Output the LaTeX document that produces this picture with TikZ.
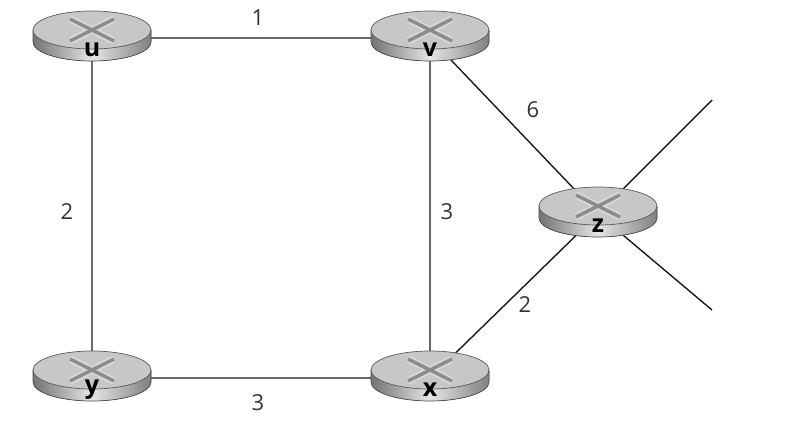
\documentclass[tikz,border=0pt]{standalone}
\usepackage{fontspec}
\setmainfont{Open Sans}
\begin{document}
\begin{tikzpicture}[x=1pt,y=-1pt,
  link/.style={draw=black!90,line width=1.4pt},
  wlab/.style={font=\fontsize{22}{22}\selectfont,text=black!80},
  rlabel/.style={font=\bfseries\fontsize{25}{25}\selectfont,inner sep=0pt}]
\useasboundingbox (0,0) rectangle (808,444);
\coordinate (u) at (92,38);
\coordinate (v) at (430,38);
\coordinate (z) at (598,214);
\coordinate (y) at (92,378);
\coordinate (x) at (430,378);
\coordinate (e1) at (712,100);
\coordinate (e2) at (712,310);
\draw[link] (u) -- (v) (u) -- (y) (v) -- (x) (y) -- (x) (v) -- (z) (x) -- (z) (z) -- (e1) (z) -- (e2);
\node[wlab] at (258,18) {1};
\node[wlab] at (533,110) {6};
\node[wlab] at (67,212) {2};
\node[wlab] at (447,212) {3};
\node[wlab] at (525,305) {2};
\node[wlab] at (258,403) {3};
\foreach \n in {u,v,z,y,x}{
  \begin{scope}[shift={(\n)}]
    \fill[left color=black!55,right color=black!50,middle color=black!10]
      (-59,-8) -- (-59,4) arc[start angle=180,end angle=0,x radius=59,y radius=19] -- (59,-8) -- cycle;
    \draw[black!70,line width=0.7pt] (-59,-8) -- (-59,4) arc[start angle=180,end angle=0,x radius=59,y radius=19] -- (59,-8);
    \fill[black!22,draw=black!65,line width=0.7pt] (0,-8) ellipse[x radius=59,y radius=19];
    \draw[white!85!black,line width=7pt] (-22,-19) -- (22,3) (-22,3) -- (22,-19);
    \draw[black!45,line width=3.5pt] (-22,-19) -- (22,3) (-22,3) -- (22,-19);
    \node[rlabel] (\n-lab) at (0,12) {\n};
  \end{scope}}
\end{tikzpicture}
\end{document}
